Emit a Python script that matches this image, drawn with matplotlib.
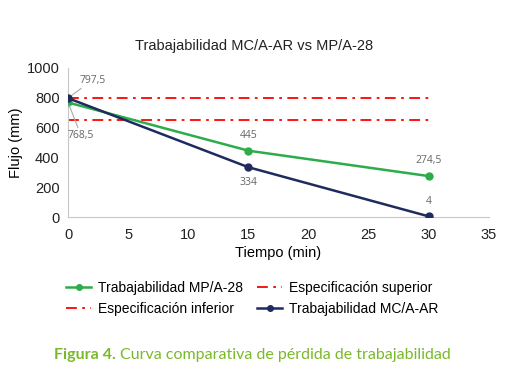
import matplotlib.pyplot as plt

# datos
tiempo = [0, 15, 30]
mp_a28 = [768.5, 445, 274.5]
mc_aar = [797.5, 334, 4]
esp_sup = [800, 800, 800]
esp_inf = [650, 650, 650]

plt.rcParams['font.family'] = ['Liberation Sans', 'DejaVu Sans']

fig = plt.figure(figsize=(5.05, 3.75), dpi=100)
ax = fig.add_axes([0.1347, 0.4213, 0.8337, 0.3974])

verde = '#2eac4b'
azul = '#1f2b5e'
rojo = '#ff0000'

l_mp, = ax.plot(tiempo, mp_a28, color=verde, lw=1.8, marker='o', ms=5,
                label='Trabajabilidad MP/A-28', zorder=3)
l_sup, = ax.plot(tiempo, esp_sup, color=rojo, lw=1.3, ls=(0, (6, 3, 1.5, 3)),
                 label='Especificación superior')
l_inf, = ax.plot(tiempo, esp_inf, color=rojo, lw=1.3, ls=(0, (6, 3, 1.5, 3)),
                 label='Especificación inferior')
l_mc, = ax.plot(tiempo, mc_aar, color=azul, lw=1.8, marker='o', ms=5,
                label='Trabajabilidad MC/A-AR', zorder=4)

ax.set_xlim(0, 35)
ax.set_ylim(0, 1000)
ax.set_xticks(range(0, 36, 5))
ax.set_yticks(range(0, 1001, 200))
ax.tick_params(length=0, labelsize=10.5, colors='#222222')
ax.tick_params(axis='x', pad=8)
ax.tick_params(axis='y', pad=6)
for s in ['top', 'right']:
    ax.spines[s].set_visible(False)
for s in ['left', 'bottom']:
    ax.spines[s].set_color('#c8c8c8')

fig.text(0.503, 0.878, 'Trabajabilidad MC/A-AR vs MP/A-28', fontsize=10.5,
         ha='center', va='center', color='#222222')
ax.set_xlabel('Tiempo (min)', fontsize=10.5, labelpad=3)
ax.set_ylabel('Flujo (mm)', fontsize=10.5, labelpad=3)

gris = '#666666'
etq = dict(fontsize=7.5, color=gris, family=['Open Sans', 'DejaVu Sans'])
ax.annotate('797,5', (tiempo[0], mc_aar[0]), xytext=(8, 9), textcoords='offset points',
            ha='left', va='bottom',
            arrowprops=dict(arrowstyle='-', color='#aaaaaa', lw=0.8, shrinkA=0, shrinkB=2), **etq)
ax.annotate('768,5', (tiempo[0], mp_a28[0]), xytext=(0, -20), textcoords='offset points',
            ha='left', va='top',
            arrowprops=dict(arrowstyle='-', color='#aaaaaa', lw=0.8, shrinkA=0, shrinkB=2), **etq)
ax.annotate('445', (tiempo[1], mp_a28[1]), xytext=(0, 7), textcoords='offset points',
            ha='center', va='bottom', **etq)
ax.annotate('334', (tiempo[1], mc_aar[1]), xytext=(0, -7), textcoords='offset points',
            ha='center', va='top', **etq)
ax.annotate('274,5', (tiempo[2], mp_a28[2]), xytext=(0, 7), textcoords='offset points',
            ha='center', va='bottom', **etq)
ax.annotate('4', (tiempo[2], mc_aar[2]), xytext=(0, 7), textcoords='offset points',
            ha='center', va='bottom', **etq)

fig.legend(handles=[l_mp, l_inf, l_sup, l_mc], ncol=2, loc='center',
           bbox_to_anchor=(0.5, 0.205), frameon=False, fontsize=10,
           handlelength=1.8, columnspacing=1.0, handletextpad=0.5, labelspacing=0.5,
           markerscale=0.8)

verde_tit = '#7ab929'
fig.text(116 / 505, 0.053, 'Figura 4.', ha='right', va='center', fontsize=11.5,
         fontweight='bold', color=verde_tit, family=['Lato', 'DejaVu Sans'])
fig.text(120 / 505, 0.053, 'Curva comparativa de pérdida de trabajabilidad',
         ha='left', va='center', fontsize=11.5, color=verde_tit,
         family=['Lato', 'DejaVu Sans'])

fig.savefig('out.png', dpi=100)
